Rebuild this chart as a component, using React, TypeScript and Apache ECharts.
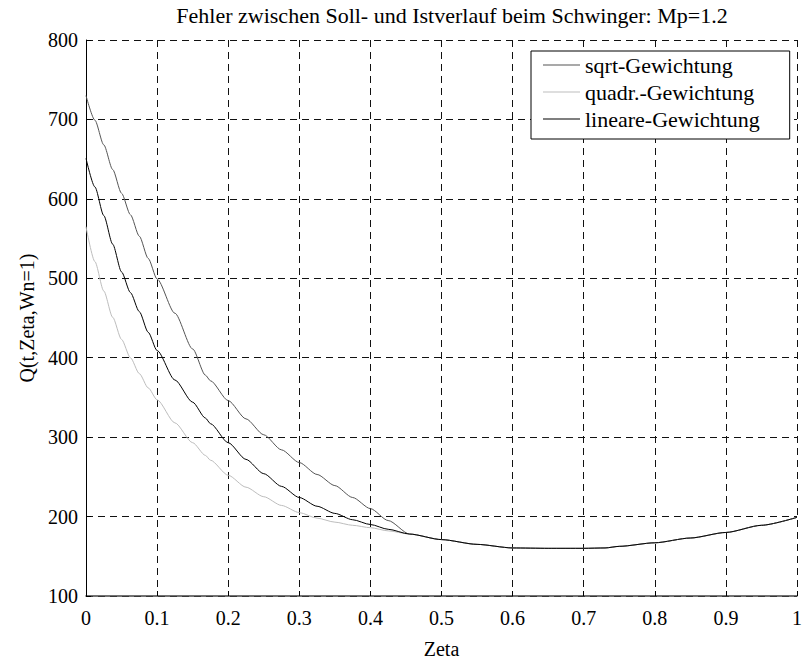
import React, { useEffect, useRef } from "react";
import * as echarts from "echarts";

const titleText = "Fehler zwischen Soll- und Istverlauf beim Schwinger: Mp=1.2";
const xName = "Zeta";
const yName = "Q(t,Zeta,Wn=1)";
const seriesNames = ["sqrt-Gewichtung", "quadr.-Gewichtung", "lineare-Gewichtung"];

const zeta = [0, 0.0125, 0.025, 0.0375, 0.05, 0.0625, 0.075, 0.0875, 0.1, 0.125, 0.15, 0.168, 0.175, 0.2, 0.225, 0.25, 0.275, 0.3, 0.325, 0.35, 0.375, 0.4, 0.425, 0.455, 0.5, 0.55, 0.6, 0.65, 0.7, 0.73, 0.75, 0.8, 0.85, 0.9, 0.95, 1.0];

const sqrtW = [730, 699, 668, 637, 607, 580, 553, 525, 499, 456, 411, 378, 371, 346, 323, 303, 284, 268, 253, 239, 224, 210, 195, 178, 171, 165, 160.5, 160, 160, 160.5, 162.5, 167, 173, 180, 189, 199];
const quadrW = [565, 521, 484, 451, 423, 400, 380, 362, 347, 318, 293, 277, 271, 252, 237, 225, 214, 205, 198, 193, 189, 186, 182, 178, 171, 165, 160.5, 160, 160, 160.5, 162.5, 167, 173, 180, 189, 199];
const linW = [651, 615, 579, 543, 508, 482, 458, 432, 409, 372, 344, 324, 317, 293, 272, 254, 238, 224, 213, 204, 196, 190, 184, 178, 171, 165, 160.5, 160, 160, 160.5, 162.5, 167, 173, 180, 189, 199];

const colors = ["#555555", "#bdbdbd", "#000000"];
const FONT = "Liberation Serif";

export default function App() {
  const ref = useRef<HTMLDivElement>(null);
  useEffect(() => {
    if (!ref.current) return;
    const chart = echarts.init(ref.current, null, { renderer: "svg" });
    const mk = (vals: number[]) => zeta.map((z, i) => [z, vals[i]]);
    const dataSets = [sqrtW, quadrW, linW];
    chart.setOption({
      animation: false,
      backgroundColor: "#ffffff",
      textStyle: { fontFamily: FONT, color: "#000" },
      title: {
        text: titleText,
        left: 447,
        top: -1,
        textAlign: "center",
        textStyle: { fontFamily: FONT, fontSize: 22, fontWeight: "normal", color: "#000" },
      },
      legend: {
        orient: "vertical",
        left: 531,
        top: 51,
        data: seriesNames,
        icon: "rect",
        itemWidth: 37,
        itemHeight: 1,
        itemGap: 5,
        padding: [3, 30, 9, 12],
        backgroundColor: "#ffffff",
        borderColor: "#000",
        borderWidth: 1,
        borderRadius: 0,
        textStyle: { fontFamily: FONT, fontSize: 22, color: "#000" },
      },
      grid: { left: 86, right: 3, top: 40, bottom: 60, containLabel: false },
      xAxis: {
        type: "value",
        min: 0,
        max: 1,
        interval: 0.1,
        name: xName,
        nameLocation: "middle",
        nameGap: 43,
        nameTextStyle: { fontFamily: FONT, fontSize: 20, color: "#000" },
        axisLine: { show: true, onZero: false, lineStyle: { color: "#444", width: 1.5 } },
        axisTick: { show: true, inside: true, length: 5, lineStyle: { color: "#000" } },
        axisLabel: { fontFamily: FONT, fontSize: 20, color: "#000", margin: 12 },
        splitLine: { show: true, lineStyle: { color: "#111", type: [7, 5], width: 1 } },
      },
      yAxis: {
        type: "value",
        min: 100,
        max: 800,
        interval: 100,
        name: yName,
        nameLocation: "middle",
        nameGap: 46,
        nameTextStyle: { fontFamily: FONT, fontSize: 20, color: "#000" },
        axisLine: { show: true, lineStyle: { color: "#000", width: 1 } },
        axisTick: { show: true, inside: true, length: 5, lineStyle: { color: "#000" } },
        axisLabel: { fontFamily: FONT, fontSize: 20, color: "#000", margin: 8 },
        splitLine: { show: true, lineStyle: { color: "#111", type: [7, 5], width: 1 } },
      },
      series: seriesNames.map((n, i) => ({
        name: n,
        type: "line",
        data: mk(dataSets[i]),
        showSymbol: false,
        symbol: "none",
        smooth: 0.25,
        smoothMonotone: "x",
        lineStyle: { color: colors[i], width: 1 },
        itemStyle: { color: colors[i] },
        z: 2 + i,
      })),
    });
    return () => chart.dispose();
  }, []);
  return (
    <div
      ref={ref}
      style={{ position: "fixed", left: 0, top: 0, width: 805, height: 664 }}
    />
  );
}
